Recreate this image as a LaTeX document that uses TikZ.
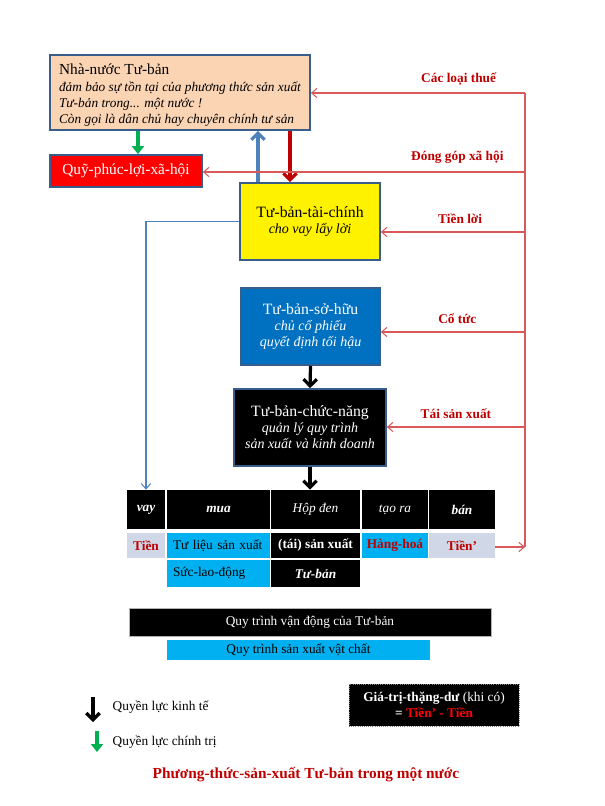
\documentclass[tikz,border=0pt]{standalone}
\usepackage{fontspec}
\setmainfont{Liberation Serif}
\usetikzlibrary{arrows.meta}
\definecolor{peach}{HTML}{FBD4B4}
\definecolor{boxblue}{HTML}{385D8A}
\definecolor{steel}{HTML}{4F81BD}
\definecolor{darkred}{HTML}{C00000}
\definecolor{redline}{HTML}{D9595A}
\definecolor{cyanbg}{HTML}{00B0F0}
\definecolor{tienbg}{HTML}{D0D8E8}
\definecolor{sohuu}{HTML}{0070C0}
\definecolor{xanhla}{HTML}{00B050}
\begin{document}
\begin{tikzpicture}[x=0.75pt,y=-0.75pt,
  khoi/.style={draw=boxblue,line width=1.3pt,inner sep=0pt,align=center,font=\fontsize{11.8}{12}\selectfont},
  cell/.style={inner sep=0pt,align=center,font=\fontsize{10}{11}\selectfont},
  feed/.style={draw=redline,line width=0.8pt,-{Straight Barb[length=4pt,width=7pt]}},
  flab/.style={above,yshift=2.5pt,font=\fontsize{10}{11}\selectfont\bfseries,text=darkred},
  power/.style={line width=2.4pt,-{Straight Barb[length=5pt,width=10pt]}}]
  \useasboundingbox (0,0) rectangle (605,806);
  % cac khoi chinh
  \node[khoi,fill=peach,minimum width=195pt,minimum height=56.25pt,align=left,font=\fontsize{10}{12.2}\selectfont] (nn) at (180,92.5)
    {\rule{0pt}{12.5pt}{\fontsize{11.5}{12}\selectfont Nhà-nước Tư-bản}\\ {\itshape đảm bảo sự tồn tại của phương thức sản xuất}\\ {\itshape Tư-bản trong... một nước !}\\ {\itshape Còn gọi là dân chủ hay chuyên chính tư sản}};
  \node[khoi,fill=red,text=white,minimum width=114pt,minimum height=24pt,font=\fontsize{11.5}{13}\selectfont] (qp) at (126,171) {Quỹ-phúc-lợi-xã-hội};
  \node[khoi,fill=yellow,minimum width=105pt,minimum height=57.75pt] (tc) at (310,221.5)
    {Tư-bản-tài-chính\\ {\fontsize{10.5}{12}\selectfont\itshape cho vay lấy lời}};
  \node[khoi,fill=sohuu,text=white,minimum width=104.25pt,minimum height=57.75pt] (sh) at (310.5,326.5)
    {Tư-bản-sở-hữu\\ {\fontsize{10.5}{12}\selectfont\itshape chủ cổ phiếu}\\ {\fontsize{10.5}{12}\selectfont\itshape quyết định tối hậu}};
  \node[khoi,fill=black,text=white,minimum width=114pt,minimum height=57.75pt] (cn) at (310,427.5)
    {Tư-bản-chức-năng\\ {\fontsize{10.5}{12}\selectfont\itshape quản lý quy trình}\\ {\fontsize{10.5}{12}\selectfont\itshape sản xuất và kinh doanh}};
  % bang
  \node[cell,fill=black,text=white,minimum width=28.5pt,minimum height=29.25pt,font=\fontsize{10}{11}\selectfont\bfseries\itshape] (vay) at (146,509.5) {vay};
  \node[cell,fill=black,text=white,minimum width=77.25pt,minimum height=29.25pt,font=\fontsize{10}{11}\selectfont\bfseries\itshape] (mua) at (218.5,509.5) {mua};
  \node[cell,fill=black,text=white,minimum width=66.75pt,minimum height=29.25pt,font=\fontsize{10}{11}\selectfont\itshape] (hop) at (315.5,509.5) {Hộp đen};
  \node[cell,fill=black,text=white,minimum width=49.5pt,minimum height=29.25pt,font=\fontsize{10}{11}\selectfont\itshape] (tao) at (395,509.5) {tạo ra};
  \node[cell,fill=black,text=white,minimum width=49.5pt,minimum height=29.25pt,font=\fontsize{10}{11}\selectfont\bfseries\itshape] (ban) at (462,509.5) {bán};
  \node[cell,fill=tienbg,text=darkred,minimum width=28.5pt,minimum height=18.75pt,font=\fontsize{10}{11}\selectfont\bfseries] (tien1) at (146,545.5) {Tiền};
  \node[cell,fill=cyanbg,text width=72.25pt,inner xsep=2.5pt,align=left,minimum height=18.75pt] (tlsx) at (218.5,545.5) {\hspace{2pt}Tư liệu sản xuất};
  \node[cell,fill=black,text=white,minimum width=66.75pt,minimum height=18.75pt,font=\fontsize{10}{11}\selectfont\bfseries] (taisx) at (315.5,545.5) {(tái) sản xuất};
  \node[cell,fill=cyanbg,text=darkred,minimum width=49.5pt,minimum height=18.75pt,font=\fontsize{10}{11}\selectfont\bfseries] (hh) at (395,545.5) {Hàng-hoá};
  \node[cell,fill=tienbg,text=darkred,minimum width=49.5pt,minimum height=18.75pt,font=\fontsize{10}{11}\selectfont\bfseries] (tien2) at (462,545.5) {Tiền’};
  \node[cell,fill=cyanbg,text width=72.25pt,inner xsep=2.5pt,align=left,minimum height=20.25pt] (sld) at (218.5,573.5) {\hspace{2pt}Sức-lao-động};
  \node[cell,fill=black,text=white,minimum width=66.75pt,minimum height=20.25pt,font=\fontsize{10}{11}\selectfont\bfseries\itshape] (tb) at (315.5,573.5) {Tư-bản};
  % quy trinh
  \node[cell,fill=black,text=white,draw=gray!60,minimum width=271.5pt,minimum height=21pt] (qt1) at (310,622) {Quy trình vận động của Tư-bản};
  \node[cell,fill=cyanbg,minimum width=197.25pt,minimum height=15pt] (qt2) at (298.5,650) {Quy trình sản xuất vật chất};
  % mui ten quyen luc
  \draw[power,draw=steel] ([xshift=-39pt]tc.north) -- ([xshift=-39pt]tc.north |- nn.south);
  \draw[power,draw=darkred] ([xshift=-15pt]tc.north |- nn.south) -- ([xshift=-15pt]tc.north);
  \draw[draw=xanhla,line width=3pt,-{Triangle[length=6pt,width=9pt]}] ([xshift=9pt]qp.north |- nn.south) -- ([xshift=9pt]qp.north);
  \draw[power] (sh.south) -- (cn.north);
  \draw[power] (cn.south) -- (cn.south |- hop.north);
  \draw[draw=steel,line width=0.8pt,-{Straight Barb[length=4pt,width=7pt]}] (tc.west) -| (vay.north);
  % dong tien quay ve
  \coordinate (st) at (525,93);
  \coordinate (s2) at (525,172);
  \coordinate (s3) at (525,232);
  \coordinate (s4) at (525,332);
  \coordinate (s5) at (525,427);
  \coordinate (sb) at (525,547);
  \draw[draw=redline,line width=0.8pt] (st) -- (sb);
  \draw[feed] (tien2.east |- sb) -- (sb);
  \draw[feed] (st) -- (st -| nn.east) node[flab,pos=0.31] {Các loại thuế};
  \draw[feed] (s2) -- (s2 -| qp.east) node[flab,pos=0.21] {Đóng góp xã hội};
  \draw[feed] (s3) -- (s3 -| tc.east) node[flab,pos=0.45] {Tiền lời};
  \draw[feed] (s4) -- (s4 -| sh.east) node[flab,pos=0.47] {Cổ tức};
  \draw[feed] (s5) -- (s5 -| cn.east) node[flab,pos=0.5] {Tái sản xuất};
  % chu thich
  \coordinate (k1) at (93,697);
  \coordinate (k2) at (93,722);
  \draw[power] (k1) -- (k2);
  \node[anchor=west,font=\fontsize{10}{11}\selectfont] (kt) at (108,707) {Quyền lực kinh tế};
  \coordinate (c1) at (97,731);
  \coordinate (c2) at (97,752);
  \draw[draw=xanhla,line width=3pt,-{Triangle[length=6pt,width=9pt]}] (c1) -- (c2);
  \node[anchor=west,font=\fontsize{10}{11}\selectfont] (ct) at (108,742) {Quyền lực chính trị};
  \node[fill=black,draw=gray,densely dotted,line width=0.6pt,minimum width=127.5pt,minimum height=31.5pt,inner sep=0pt,text=white,align=center,font=\fontsize{10}{12}\selectfont] (gt) at (434,705)
    {\textbf{Giá-trị-thặng-dư} (khi có)\\ \textbf{= \textcolor{red}{Tiền’ - Tiền}}};
  \node[font=\fontsize{11.5}{13}\selectfont\bfseries,text=darkred] (tieude) at (306,775) {Phương-thức-sản-xuất Tư-bản trong một nước};
\end{tikzpicture}
\end{document}
